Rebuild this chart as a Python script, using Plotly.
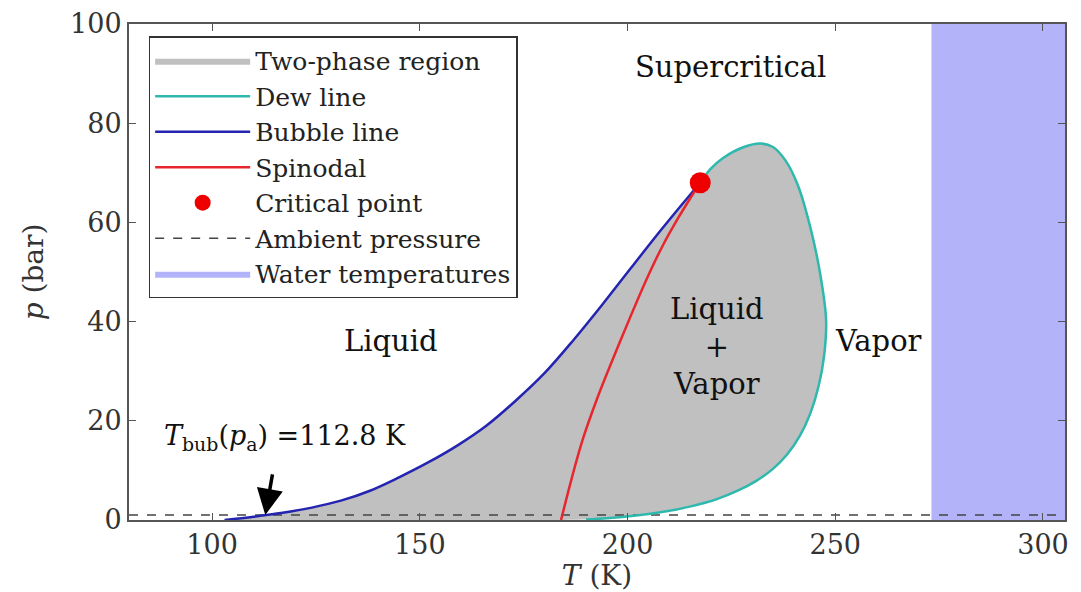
import plotly.graph_objects as go

# ---- data ----
bubble_T = [103.0, 110.0, 117.0, 124.0, 131.0, 138.0, 145.0, 152.0, 159.0, 166.0, 173.0, 180.0, 187.0, 194.0, 201.0, 208.0, 213.0, 217.5]
bubble_p = [0.0, 0.65, 1.45, 2.5, 3.9, 5.9, 8.6, 11.6, 15.0, 19.0, 24.0, 29.6, 36.3, 43.5, 51.0, 58.4, 63.5, 68.0]

dew_T = [217.5, 220.0, 223.0, 228.0, 232.0, 235.0, 238.0, 241.0, 244.0, 246.5, 247.8, 247.3, 246.0, 244.0, 241.5, 238.5, 235.0, 231.0, 226.5, 221.5, 215.5, 209.0, 202.0, 195.0, 190.0]
dew_p = [68.0, 70.8, 73.0, 75.2, 75.9, 75.2, 72.5, 67.5, 59.0, 49.0, 40.2, 33.0, 27.0, 21.5, 17.0, 13.3, 10.3, 7.9, 5.9, 4.2, 2.8, 1.7, 0.9, 0.35, 0.1]

spinodal_T = [184.0, 186.5, 189.2, 192.6, 196.4, 200.4, 204.4, 208.4, 212.2, 215.2, 217.5]
spinodal_p = [0.0, 8.2, 16.2, 24.3, 32.3, 40.4, 48.2, 55.2, 60.9, 65.0, 68.0]

critical_T = [217.5]
critical_p = [68.0]

ambient_p = 1.01325
water_T = [273.15, 310.0]

x_range = [80, 305.3]
y_range = [0, 100]
x_ticks = [100, 150, 200, 250, 300]
y_ticks = [0, 20, 40, 60, 80, 100]

FONT = "DejaVu Serif"
AX = "#555555"
SM = 1.0

fig = go.Figure()

# water temperatures band
fig.add_trace(go.Scatter(
    x=[water_T[0], water_T[1], water_T[1], water_T[0], water_T[0]],
    y=[-10, -10, 110, 110, -10],
    fill="toself", fillcolor="#b3b3fa", mode="lines", line=dict(width=0, color="#b3b3fa"),
    name="Water temperatures", legendrank=7, legendgroup="g7", hoverinfo="skip"))

# two-phase region polygon: bubble line up to critical point, dew line back down
poly_T = bubble_T + dew_T[1:] + [bubble_T[0]]
poly_p = bubble_p + dew_p[1:] + [bubble_p[0]]
fig.add_trace(go.Scatter(
    x=poly_T, y=poly_p, fill="toself", fillcolor="#c0c0c0", mode="lines",
    line=dict(width=0, color="#c0c0c0", shape="spline", smoothing=SM),
    name="Two-phase region", legendrank=1, legendgroup="g1", hoverinfo="skip"))

# ambient pressure
fig.add_trace(go.Scatter(
    x=[x_range[0], x_range[1]], y=[ambient_p, ambient_p], mode="lines",
    line=dict(color="#444444", width=1.5, dash="dash"),
    name="Ambient pressure", legendrank=6, legendgroup="g6"))

fig.add_trace(go.Scatter(
    x=dew_T, y=dew_p, mode="lines",
    line=dict(color="#2fb8ad", width=2.5, shape="spline", smoothing=SM),
    name="Dew line", legendrank=2, legendgroup="g2"))

fig.add_trace(go.Scatter(
    x=bubble_T, y=bubble_p, mode="lines",
    line=dict(color="#2424b0", width=2.5, shape="spline", smoothing=SM),
    name="Bubble line", legendrank=3, legendgroup="g3"))

fig.add_trace(go.Scatter(
    x=spinodal_T, y=spinodal_p, mode="lines",
    line=dict(color="#e8262e", width=2.5, shape="spline", smoothing=SM),
    name="Spinodal", legendrank=4, legendgroup="g4"))

fig.add_trace(go.Scatter(
    x=critical_T, y=critical_p, mode="markers",
    marker=dict(color="#ee0000", size=21, line=dict(width=0)),
    name="Critical point", legendrank=5, legendgroup="g5"))

# region labels
labels = [
    (224.7, 91.4, "Supercritical"),
    (143.0, 36.0, "Liquid"),
    (221.6, 35.0, "Liquid<br>+<br>Vapor"),
    (260.5, 36.0, "Vapor"),
]
for tx, ty, tt in labels:
    fig.add_annotation(x=tx, y=ty, text=tt, showarrow=False,
                       font=dict(family=FONT, size=29, color="#111111"),
                       align="center")

# bubble-temperature annotation
fig.add_annotation(x=117.5, y=16.6, text="<i>T</i><sub>bub</sub>(<i>p</i><sub>a</sub>) =112.8 K",
                   showarrow=False, font=dict(family=FONT, size=27, color="#111111"))
fig.add_annotation(x=112.8, y=1.0, ax=114.6, ay=9.5, axref="x", ayref="y",
                   xref="x", yref="y", text="", showarrow=True,
                   arrowhead=2, arrowsize=1.5, arrowwidth=3.5, arrowcolor="#000000")

# page body has an 8px margin: figure is offset by 8px right/down
fig.update_layout(
    width=1073, height=584,
    margin=dict(l=121, r=16, t=16, b=72),
    paper_bgcolor="white", plot_bgcolor="white",
    font=dict(family=FONT, size=24, color="#222222"),
    showlegend=True,
    legend=dict(x=0.021, y=0.975, xanchor="left", yanchor="top",
                bgcolor="white", bordercolor="#333333", borderwidth=1.5,
                font=dict(family=FONT, size=25, color="#222222"),
                tracegroupgap=14, itemwidth=95,
                traceorder="normal"),
    xaxis=dict(range=x_range, tickvals=x_ticks, ticks="inside", ticklen=7,
               tickcolor=AX, showline=True, linecolor=AX, linewidth=2,
               mirror="ticks", showgrid=False, zeroline=False,
               automargin=False, ticklabeloverflow="allow",
               tickfont=dict(family=FONT, size=27, color="#333333"),
               title=dict(text="<i>T</i> (K)", font=dict(family=FONT, size=28, color="#333333"),
                          standoff=4)),
    yaxis=dict(range=y_range, tickvals=y_ticks, ticks="inside", ticklen=7,
               tickcolor=AX, showline=True, linecolor=AX, linewidth=2,
               mirror="ticks", showgrid=False, zeroline=False,
               automargin=False, ticklabeloverflow="allow",
               tickfont=dict(family=FONT, size=27, color="#333333"),
               title=dict(text="<i>p</i> (bar)", font=dict(family=FONT, size=28, color="#333333"),
                          standoff=18)),
)

fig.write_html("out.html")
